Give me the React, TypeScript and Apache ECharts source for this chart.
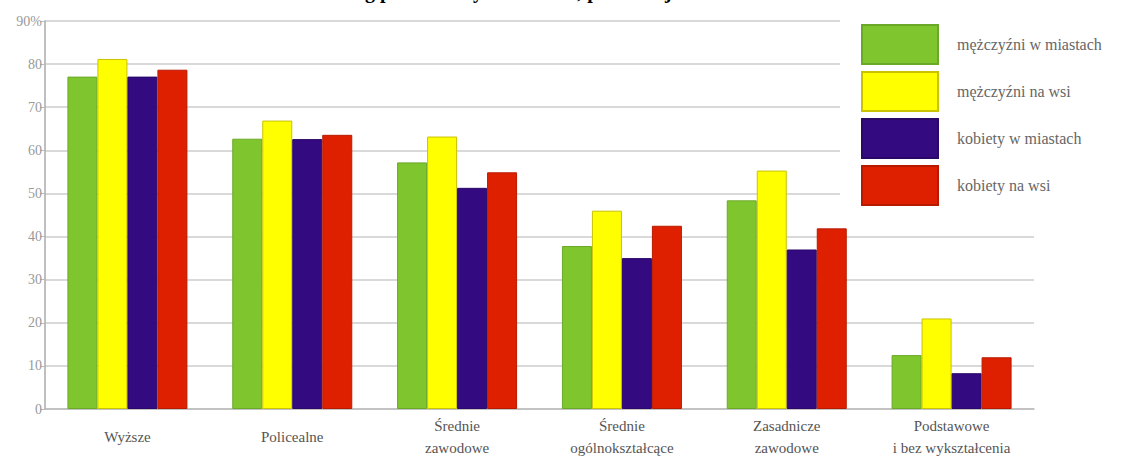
import React, { useEffect, useRef } from "react";
import * as echarts from "echarts";

const TITLE = "Wskaźnik zatrudnienia wg poziomu wykształcenia, płci i miejsca zamieszkania";
const categories = [
  "Wyższe",
  "Policealne",
  "Średnie\nzawodowe",
  "Średnie\nogólnokształcące",
  "Zasadnicze\nzawodowe",
  "Podstawowe\ni bez wykształcenia",
];
const seriesNames = ["mężczyźni w miastach", "mężczyźni na wsi", "kobiety w miastach", "kobiety na wsi"];
const menCity = [77.1, 62.7, 57.2, 37.8, 48.4, 12.5];
const menVillage = [81.2, 66.9, 63.2, 46.0, 55.3, 21.0];
const womenCity = [77.1, 62.6, 51.3, 35.0, 37.0, 8.3];
const womenVillage = [78.7, 63.6, 54.9, 42.5, 41.9, 12.0];
const yTicks = [0, 10, 20, 30, 40, 50, 60, 70, 80, 90];

const colors = ["#7fc62e", "#ffff00", "#330a80", "#df2000"];
const borders = ["#6aa828", "#c9c300", "#2a0868", "#b81a00"];

export default function App() {
  const ref = useRef<HTMLDivElement>(null);
  useEffect(() => {
    if (!ref.current) return;
    const chart = echarts.init(ref.current, undefined, { renderer: "svg" });
    const data = [menCity, menVillage, womenCity, womenVillage];
    chart.setOption({
      animation: false,
      backgroundColor: "#ffffff",
      textStyle: { fontFamily: "Liberation Serif" },
      graphic: [
        {
          type: "text",
          x: 482,
          y: -9,
          style: {
            text: TITLE,
            font: "bold 20px 'Liberation Serif'",
            fill: "#000",
            align: "center",
            verticalAlign: "middle",
          },
        },
      ],
      grid: { left: 45, right: 95, top: 21, bottom: 49, containLabel: false },
      legend: {
        orient: "vertical",
        left: 840,
        top: 15,
        padding: [9, 20, 6, 21],
        backgroundColor: "#ffffff",
        itemWidth: 76,
        itemHeight: 39,
        itemGap: 6,
        icon: "rect",
        textStyle: { color: "#666", fontSize: 16, fontFamily: "Liberation Serif", padding: [0, 0, 0, 14] },
        data: seriesNames,
      },
      xAxis: {
        type: "category",
        data: categories,
        axisLine: { lineStyle: { color: "#bbbbbb", width: 1.5 } },
        axisTick: { show: false },
        axisLabel: {
          color: "#555",
          fontSize: 15,
          fontFamily: "Liberation Serif",
          margin: 28,
          verticalAlign: "middle",
          lineHeight: 22,
          interval: 0,
        },
      },
      yAxis: {
        type: "value",
        min: yTicks[0],
        max: yTicks[yTicks.length - 1],
        interval: 10,
        axisLine: { show: true, lineStyle: { color: "#aaaaaa", width: 1.5 } },
        axisTick: { show: true, length: 5, lineStyle: { color: "#bbbbbb" } },
        splitLine: { lineStyle: { color: "#cccccc", width: 1.5 } },
        axisLabel: {
          color: "#999",
          fontSize: 14,
          fontFamily: "Liberation Serif",
          margin: 3,
          formatter: (v: number) => (v === 90 ? "90%" : String(v)),
        },
      },
      series: data.map((d, i) => ({
        name: seriesNames[i],
        type: "bar",
        data: d,
        barWidth: 30,
        barGap: "0%",
        itemStyle: { color: colors[i], borderColor: borders[i], borderWidth: 1 },
      })),
    });
    return () => chart.dispose();
  }, []);
  return (
    <div
      ref={ref}
      style={{ position: "fixed", left: 0, top: 0, width: 1129, height: 459 }}
    />
  );
}
